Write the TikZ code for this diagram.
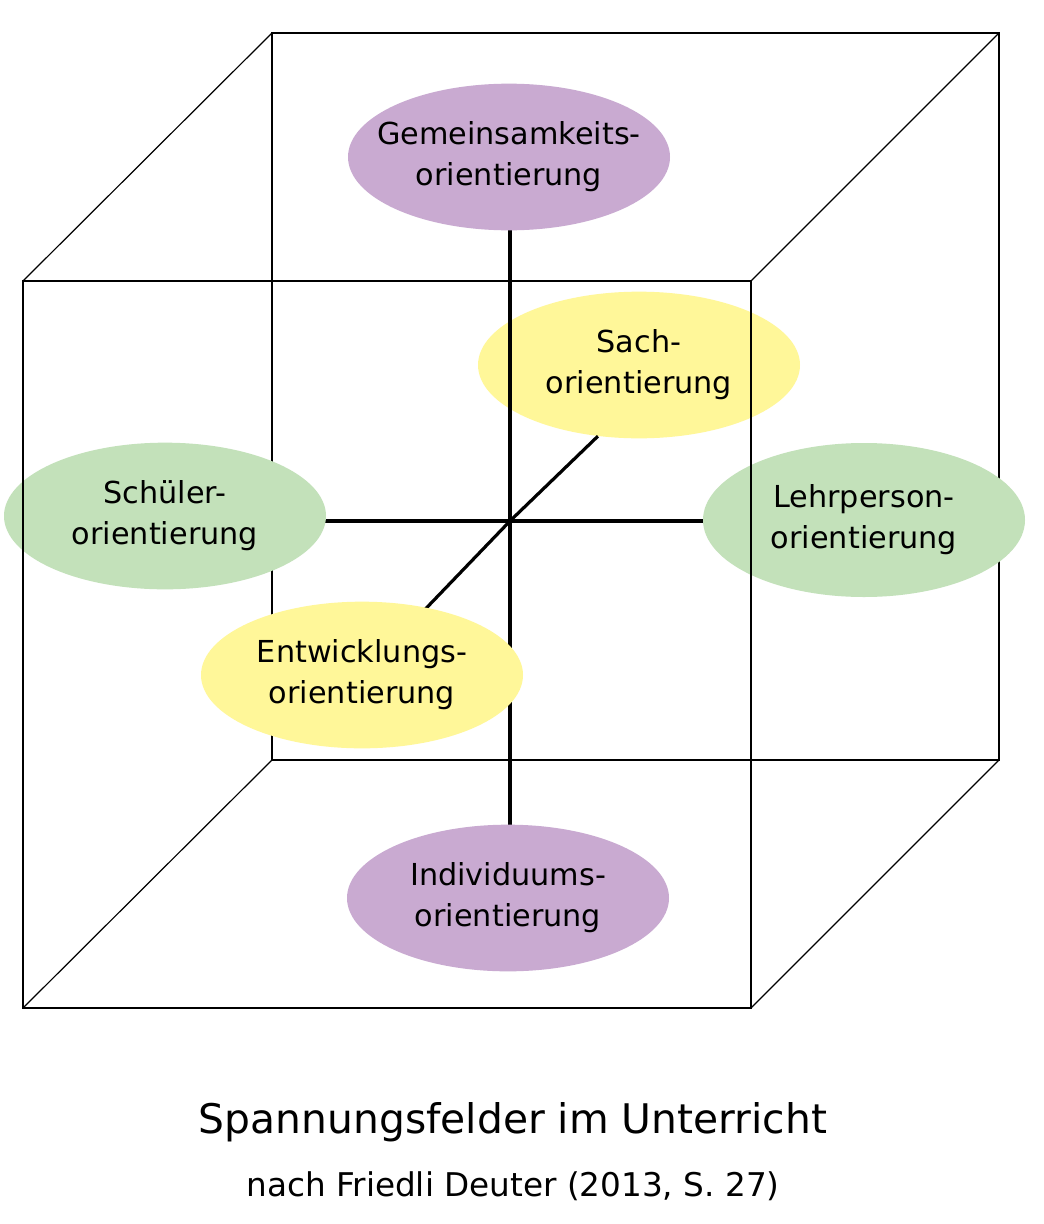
\documentclass[tikz,border=0pt]{standalone}
\usepackage{fontspec}
\setmainfont{DejaVu Sans}
\usetikzlibrary{shapes.geometric}
\pgfdeclarelayer{bg}
\pgfdeclarelayer{cubeback}
\pgfdeclarelayer{sachlayer}
\pgfdeclarelayer{axes}
\pgfdeclarelayer{cubefront}
\pgfsetlayers{bg,cubeback,sachlayer,axes,main,cubefront}
\definecolor{purpleE}{RGB}{201,170,209}
\definecolor{yellowE}{RGB}{255,247,153}
\definecolor{greenE}{RGB}{195,225,186}
\tikzset{
  ell/.style={ellipse, draw=none, inner sep=0pt, minimum width=241.5pt, minimum height=110pt},
  lbl/.style={align=center, inner sep=0pt, font=\fontsize{22.7}{30.7}\selectfont},
  cubeline/.style={line width=0.9pt, draw=black},
  axisline/.style={line width=2.4pt, draw=black},
}
\begin{document}
\begin{tikzpicture}[x=0.75pt,y=-0.75pt]
\begin{pgfonlayer}{bg}
\fill[white] (0,0) rectangle (1044,1224);
\end{pgfonlayer}
\useasboundingbox (0,0) rectangle (1044,1224);

% cube corners
\coordinate (b1) at (272,33);
\coordinate (b2) at (999,33);
\coordinate (b3) at (999,760);
\coordinate (b4) at (272,760);
\coordinate (f1) at (23,281);
\coordinate (f2) at (751,281);
\coordinate (f3) at (751,1008);
\coordinate (f4) at (23,1008);
\coordinate (c) at (510,521);

\begin{pgfonlayer}{cubeback}
\draw[cubeline] (b1) -- (b2) -- (b3) -- (b4) -- cycle;
\draw[cubeline] (b1) -- (f1);
\draw[cubeline] (b2) -- (f2);
\draw[cubeline] (b3) -- (f3);
\draw[cubeline] (b4) -- (f4);
\end{pgfonlayer}

\begin{pgfonlayer}{sachlayer}
\node[ell, fill=yellowE] (sach) at (639,365) {};
\node[lbl] (sachT) at (sach) {Sach-\\orientierung};
\end{pgfonlayer}

\node[ell, fill=purpleE] (gem) at (509,157) {};
\node[lbl] (gemT) at (gem) {Gemeinsamkeits-\\orientierung};
\node[ell, fill=purpleE] (ind) at (508,898) {};
\node[lbl] (indT) at (ind) {Individuums-\\orientierung};
\node[ell, fill=greenE] (schueler) at (165,516) {};
\node[lbl] (schuelerT) at (schueler) {Schüler-\\orientierung};
\node[ell, fill=greenE, minimum height=115.5pt] (lehr) at (864,520) {};
\node[lbl] (lehrT) at (lehr) {Lehrperson-\\orientierung};
\node[ell, fill=yellowE] (entw) at (362,675) {};
\node[lbl] (entwT) at (entw) {Entwicklungs-\\orientierung};

\begin{pgfonlayer}{axes}
\draw[axisline] (gem.center -| c) -- (ind.center -| c);
\draw[axisline] (schueler.center |- c) -- (lehr.center |- c);
\draw[axisline] (sach.-120) -- (c) -- (entw.center);
\end{pgfonlayer}

\begin{pgfonlayer}{cubefront}
\draw[cubeline] (f1) -- (f2) -- (f3) -- (f4) -- cycle;
\end{pgfonlayer}

\node[anchor=base, inner sep=0pt, font=\fontsize{30.6}{36}\selectfont] (title) at (513,1133) {Spannungsfelder im Unterricht};
\node[anchor=base, inner sep=0pt, font=\fontsize{24.5}{30}\selectfont] (subtitle) at (513,1196) {nach Friedli Deuter (2013, S. 27)};
\end{tikzpicture}
\end{document}
